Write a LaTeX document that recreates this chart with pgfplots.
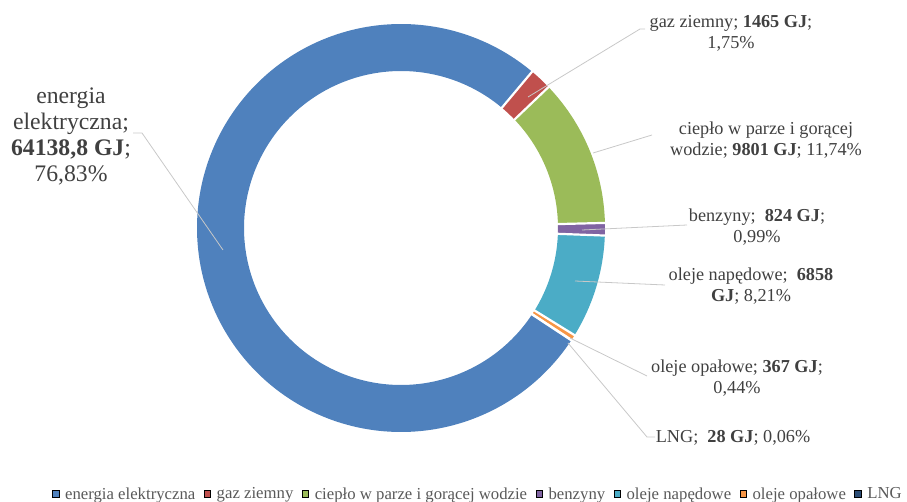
\documentclass[border=0pt]{standalone}
\usepackage{fontspec}
\setmainfont{Liberation Serif}
\usepackage{pgfplots}
\usepackage{pgfplotstable}
\pgfplotsset{compat=1.18}
\usepgfplotslibrary{polar}
\definecolor{c1}{HTML}{4F81BD}
\definecolor{c2}{HTML}{C0504D}
\definecolor{c3}{HTML}{9BBB59}
\definecolor{c4}{HTML}{8064A2}
\definecolor{c5}{HTML}{4BACC6}
\definecolor{c6}{HTML}{F79646}
\definecolor{c7}{HTML}{2C4D75}
\definecolor{tc}{HTML}{404040}
\definecolor{legtc}{HTML}{595959}
\definecolor{lc}{HTML}{C8C8C8}

% GJ per category, in chart order (clockwise)
\pgfplotstableread{
value colour
64138.8 c1
1465 c2
9801 c3
824 c4
6858 c5
367 c6
28 c7
}\donut

\tikzset{lab/.style={align=center, text=tc, font=\fontsize{18.3}{21}\selectfont, inner sep=0pt}}

\begin{document}
\begin{tikzpicture}
\useasboundingbox (0,0) rectangle (907bp,502bp);
\pgfplotstablegetrowsof{\donut}
\pgfmathtruncatemacro{\nlast}{\pgfplotsretval-1}
\gdef\tot{0}
\pgfplotsforeachungrouped \i in {0,...,\nlast}{%
  \pgfplotstablegetelem{\i}{value}\of\donut
  \xdef\tot{\fpeval{\tot+\pgfplotsretval}}%
}
\def\startang{-33.4}
\begin{polaraxis}[at={(401bp,274bp)}, anchor=origin, scale only axis,
  width=408bp, height=408bp, xmin=0, xmax=360, ymin=0, ymax=204,
  hide axis, clip=false]
\def\cum{0}
\pgfplotsforeachungrouped \i in {0,...,\nlast}{%
  \pgfplotstablegetelem{\i}{value}\of\donut \let\val\pgfplotsretval
  \pgfplotstablegetelem{\i}{colour}\of\donut \let\col\pgfplotsretval
  \edef\angA{\fpeval{round(\startang-360*\cum/\tot,4)}}%
  \edef\cum{\fpeval{\cum+\val}}%
  \edef\angB{\fpeval{round(\startang-360*\cum/\tot,4)}}%
  \edef\nsamp{\fpeval{max(2,ceil((\angA-\angB)/1.5)+1)}}%
  \edef\cmd{\noexpand\addplot[draw=\col, line width=47bp, line join=bevel, domain=\angB:\angA, samples=\nsamp, forget plot] {180.5};}%
  \cmd
}
\def\cum{0}
\pgfplotsforeachungrouped \i in {0,...,\nlast}{%
  \pgfplotstablegetelem{\i}{value}\of\donut \let\val\pgfplotsretval
  \edef\cum{\fpeval{\cum+\val}}%
  \edef\angB{\fpeval{round(\startang-360*\cum/\tot,4)}}%
  \edef\cmd{\noexpand\addplot[draw=white, line width=2.2bp, forget plot] coordinates {(\angB,155) (\angB,206)};}%
  \cmd
}
\end{polaraxis}

\begin{axis}[at={(0bp,0bp)}, anchor=south west, scale only axis,
  width=907bp, height=502bp, xmin=0, xmax=907, ymin=0, ymax=502,
  hide axis, clip=false,
  legend columns=-1,
  legend style={at={(0.527,0.016)}, anchor=center, draw=none, fill=none,
    font=\fontsize{16.8}{19}\selectfont, text=legtc, inner sep=0pt,
    /tikz/every odd column/.append style={column sep=4bp},
    /tikz/every even column/.append style={column sep=6.5bp}},
  legend image code/.code={\fill[#1] (0bp,-3.2bp) rectangle (6.5bp,3.3bp);},
]
% leader lines
\addplot[lc, line width=0.8bp, forget plot] coordinates {(133,369) (142,369) (223,252)};
\addplot[lc, line width=0.8bp, forget plot] coordinates {(645,473) (640,473) (528,405)};
\addplot[lc, line width=0.8bp, forget plot] coordinates {(652,367) (593,349)};
\addplot[lc, line width=0.8bp, forget plot] coordinates {(687,277) (582,272)};
\addplot[lc, line width=0.8bp, forget plot] coordinates {(665,217) (575,221)};
\addplot[lc, line width=0.8bp, forget plot] coordinates {(647,126) (570,164)};
\addplot[lc, line width=0.8bp, forget plot] coordinates {(655,65) (647,65) (568,159)};
% labels
\node[lab, font=\fontsize{23.8}{26}\selectfont] at (axis cs:71,365.5) {energia\\elektryczna;\\\textbf{64138,8 GJ};\\76,83\%};
\node[lab] at (axis cs:731,469) {gaz ziemny; \textbf{1465 GJ};\\1,75\%};
\node[lab] at (axis cs:766,362) {ciepło w parze i gorącej\\wodzie; \textbf{9801 GJ}; 11,74\%};
\node[lab] at (axis cs:757,275) {benzyny;\ \ \textbf{824 GJ};\\0,99\%};
\node[lab] at (axis cs:751,216) {oleje napędowe;\ \ \textbf{6858}\\\textbf{GJ}; 8,21\%};
\node[lab] at (axis cs:737,124) {oleje opałowe; \textbf{367 GJ};\\0,44\%};
\node[lab] at (axis cs:733,64) {LNG;\ \ \textbf{28 GJ}; 0,06\%};
% legend
\addlegendimage{fill=c1}\addlegendentry{energia elektryczna}
\addlegendimage{fill=c2}\addlegendentry{gaz ziemny}
\addlegendimage{fill=c3}\addlegendentry{ciepło w parze i gorącej wodzie}
\addlegendimage{fill=c4}\addlegendentry{benzyny}
\addlegendimage{fill=c5}\addlegendentry{oleje napędowe}
\addlegendimage{fill=c6}\addlegendentry{oleje opałowe}
\addlegendimage{fill=c7}\addlegendentry{LNG}
\end{axis}
\end{tikzpicture}
\end{document}
